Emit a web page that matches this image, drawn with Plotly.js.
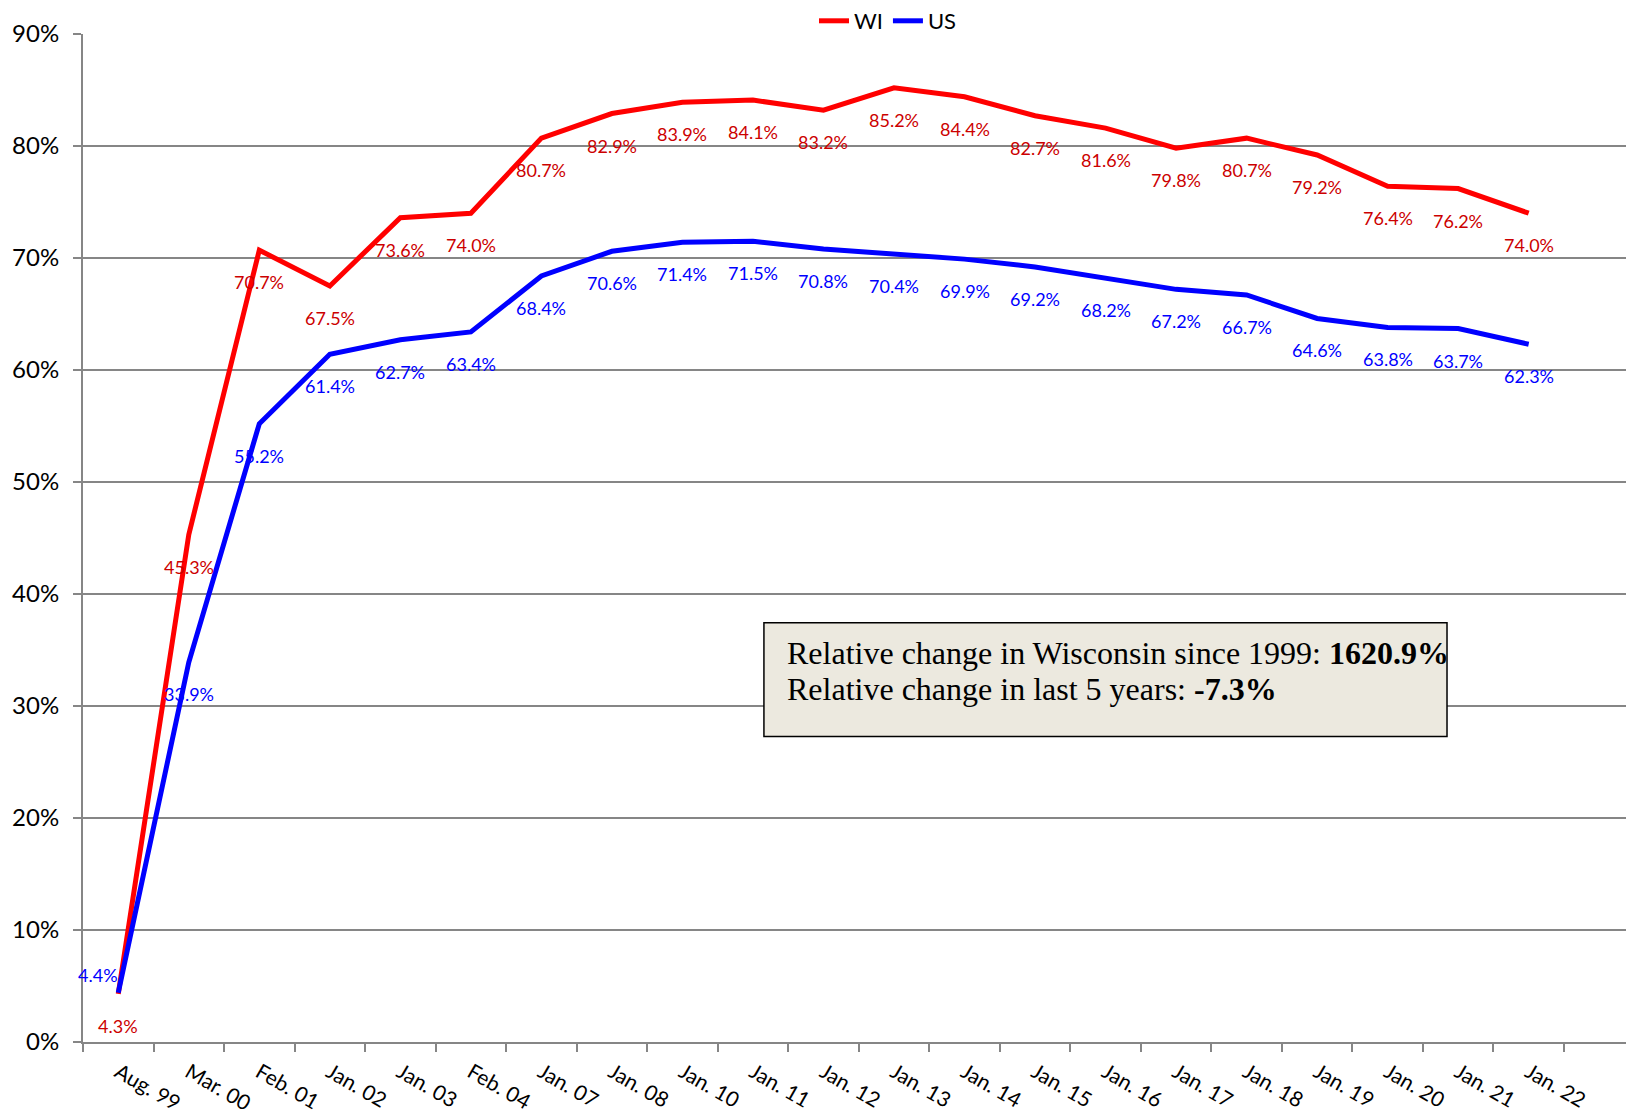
<!DOCTYPE html>
<html>
<head>
<meta charset="utf-8">
<script src="https://cdn.plot.ly/plotly-3.0.1.min.js"></script>
<style>html,body{margin:0;padding:0;background:#fff;}#chart{width:1626px;height:1117px;}</style>
</head>
<body>
<div id="chart"></div>
<script>
const categories = ["Aug. 99","Mar. 00","Feb. 01","Jan. 02","Jan. 03","Feb. 04","Jan. 07","Jan. 08","Jan. 10","Jan. 11","Jan. 12","Jan. 13","Jan. 14","Jan. 15","Jan. 16","Jan. 17","Jan. 18","Jan. 19","Jan. 20","Jan. 21","Jan. 22"];
const wiValues = [4.3,45.3,70.7,67.5,73.6,74.0,80.7,82.9,83.9,84.1,83.2,85.2,84.4,82.7,81.6,79.8,80.7,79.2,76.4,76.2,74.0];
const usValues = [4.4,33.9,55.2,61.4,62.7,63.4,68.4,70.6,71.4,71.5,70.8,70.4,69.9,69.2,68.2,67.2,66.7,64.6,63.8,63.7,62.3];
const yTicks = [0,10,20,30,40,50,60,70,80,90];
const boxLines = ["Relative change in Wisconsin since 1999: <b>1620.9%</b>", "Relative change in last 5 years: <b>-7.3%</b>"];

const WI_COLOR = '#FF0000', US_COLOR = '#0000FF';
const WI_TEXT = '#CC0000', US_TEXT = '#0000FF';
const GRID = '#868686';
const FONT = 'Lato, "Open Sans", sans-serif';

const traces = [
  {x: categories, y: wiValues, name: 'WI', type: 'scatter', mode: 'lines',
   line: {color: WI_COLOR, width: 5}, hoverinfo: 'skip'},
  {x: categories, y: usValues, name: 'US', type: 'scatter', mode: 'lines',
   line: {color: US_COLOR, width: 5}, hoverinfo: 'skip'}
];

const annotations = [];
categories.forEach((c, i) => {
  annotations.push({x: c, y: wiValues[i], xref: 'x', yref: 'y', text: wiValues[i].toFixed(1) + '%',
    showarrow: false, yshift: -32, font: {family: FONT, size: 18, color: WI_TEXT}});
  const first = i === 0;
  annotations.push({x: c, y: usValues[i], xref: 'x', yref: 'y', text: usValues[i].toFixed(1) + '%',
    showarrow: false, yshift: first ? 18 : -32, xshift: first ? -20 : 0,
    font: {family: FONT, size: 18, color: US_TEXT}});
});
const boxFont = {family: '"Liberation Serif", "Times New Roman", serif', size: 32, color: '#000'};
annotations.push({xref: 'paper', yref: 'paper', x: 0.4549, y: (1042 - 652) / 1010, xanchor: 'left', yanchor: 'middle',
  align: 'left', showarrow: false, text: boxLines[0], font: boxFont});
annotations.push({xref: 'paper', yref: 'paper', x: 0.4549, y: (1042 - 688) / 1010, xanchor: 'left', yanchor: 'middle',
  align: 'left', showarrow: false, text: boxLines[1], font: boxFont});

const layout = {
  width: 1626, height: 1117,
  margin: {l: 83, r: 0, t: 32, b: 75},
  paper_bgcolor: '#ffffff', plot_bgcolor: '#ffffff',
  font: {family: FONT, color: '#000'},
  showlegend: true,
  legend: {orientation: 'h', x: 0.5217, xanchor: 'center', y: 1.0129, yanchor: 'middle',
    font: {family: FONT, size: 22, color: '#000'}, bgcolor: 'rgba(0,0,0,0)', traceorder: 'normal'},
  xaxis: {
    type: 'category', range: [-0.5, 21.38],
    showgrid: false, showline: true, linecolor: GRID, linewidth: 2,
    ticks: 'outside', tickson: 'boundaries', ticklen: 8, tickcolor: GRID, tickwidth: 2,
    ticklabelstandoff: 8,
    tickangle: 30, tickfont: {family: FONT, size: 21, color: '#000'}, zeroline: false, fixedrange: true
  },
  yaxis: {
    range: [0, 90], tickvals: yTicks, ticktext: yTicks.map(v => v + '%'),
    showgrid: true, gridcolor: GRID, gridwidth: 1.5,
    showline: true, linecolor: GRID, linewidth: 2,
    ticks: 'outside', ticklen: 8, tickcolor: GRID, tickwidth: 2, ticklabelstandoff: 9,
    tickfont: {family: FONT, size: 24, color: '#000'}, zeroline: false, fixedrange: true
  },
  shapes: [{
    type: 'rect', xref: 'paper', yref: 'paper', x0: 0.4413, x1: 0.884, y0: 0.303, y1: 0.4158,
    fillcolor: '#ECE9DF', line: {color: '#000', width: 1.5}, layer: 'above'
  }],
  annotations: annotations
};

Plotly.newPlot('chart', traces, layout, {displayModeBar: false, staticPlot: true});
</script>
</body>
</html>
